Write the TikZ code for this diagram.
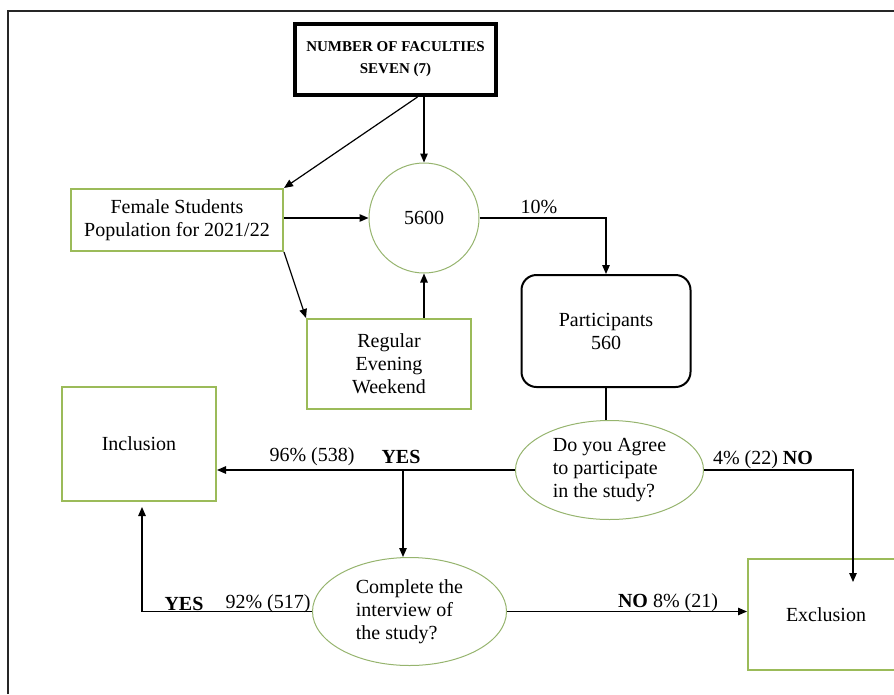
\documentclass[tikz,border=0pt]{standalone}
\usepackage{fontspec}
\setmainfont{Liberation Serif}
\usepackage{tikz}
\usetikzlibrary{shapes.geometric,shapes.misc,calc,positioning,arrows.meta}
\definecolor{boxgreen}{RGB}{155,187,89}
\definecolor{ovalgreen}{RGB}{150,180,110}
\tikzset{
  txt/.style={font=\fontsize{20}{23}\selectfont,align=center,inner sep=0pt},
  greenbox/.style={txt,rectangle,draw=boxgreen,line width=2pt},
  greenoval/.style={txt,ellipse,draw=ovalgreen,line width=1pt},
  link/.style={line width=1.2pt,-{Triangle[length=9pt,width=7.5pt]}},
  lbl/.style={font=\fontsize{20}{23}\selectfont,inner sep=0pt}
}

\begin{document}
\begin{tikzpicture}[x=1pt,y=-1pt]
\clip (0,0) rectangle (894,694);
\draw [line width=2pt,black!85] (8,694) -- (8,11) -- (894,11);
% boxes
\node (faculties) [rectangle,draw,line width=4pt,minimum width=201pt,minimum height=71pt,align=center,inner sep=0pt,font=\fontsize{15}{22}\selectfont\bfseries] at (395.5,59.5) {NUMBER OF FACULTIES\\SEVEN (7)};
\node (total) [txt,circle,draw=ovalgreen,line width=1pt,minimum size=110pt] at (424,218) {5600};
\node (female) [greenbox,minimum width=212pt,minimum height=62pt] at (177,220) {Female Students\\Population for 2021/22};
\node (modes) [greenbox,minimum width=164pt,minimum height=90pt] at (389,364) {Regular\\Evening\\Weekend};
\node (particip) [txt,rectangle,rounded corners=15pt,draw,line width=2pt,minimum width=169pt,minimum height=112pt] at (606,331) {Participants\\560};
\node (agree) [greenoval,align=left,minimum width=188pt,minimum height=99pt] at (609.5,470) {Do you Agree\\to participate\\in the study?};
\node (incl) [greenbox,minimum width=154pt,minimum height=114pt] at (139,444) {Inclusion};
\node (complete) [greenoval,align=left,minimum width=194pt,minimum height=108pt] at (409.5,611.5) {Complete the\\interview of\\the study?};
\node (excl) [greenbox,minimum width=156pt,minimum height=111pt] at (826,614.5) {Exclusion};
% connectors
\draw [link] (faculties.south -| total.north) -- (total.north);
\draw [link] ($(faculties.south)+(22,0)$) -- (female.north east);
\draw [link] (female.east |- total.west) -- (total.west);
\draw [link] (female.south east) -- (modes.north west);
\draw [link] (modes.north -| total.south) -- (total.south);
\draw [link] (total.east) -| (particip.north);
\node (pct10) [lbl,anchor=south] at (539,214) {10\%};
\draw [line width=1.2pt] (particip.south) -- (particip.south |- agree.north);
\draw [link] (agree.west) -- (agree.west -| incl.east);
\node (pct96) [lbl] at (312,457) {96\% (538)};
\node (yes1) [lbl,font=\fontsize{20}{23}\selectfont\bfseries] at (401,457) {YES};
\coordinate (fork) at (403,470);
\draw [link] (fork) -- (fork |- complete.north);
\coordinate (nodrop) at (853,582);
\draw [link] (agree.east) -| (nodrop);
\node (pct4) [lbl] at (763,460) {4\% (22) \textbf{NO}};
\draw [link] (complete.east) -- (complete.east -| excl.west);
\node (pct8) [lbl] at (668,603) {\textbf{NO} 8\% (21)};
\coordinate (backup) at (142,507);
\draw [link] (complete.west) -| (backup);
\node (yes2) [lbl,font=\fontsize{20}{23}\selectfont\bfseries] at (184,604) {YES};
\node (pct92) [lbl] at (268,604) {92\% (517)};
\end{tikzpicture}
\end{document}
